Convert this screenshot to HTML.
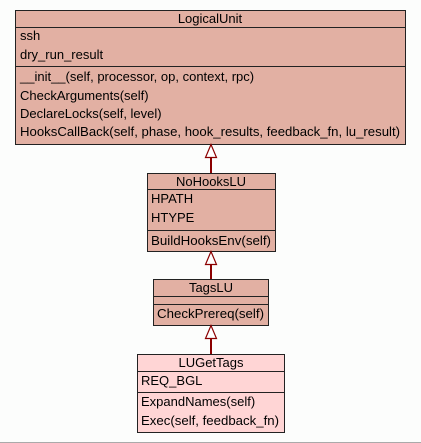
<!DOCTYPE html>
<html><head><meta charset="utf-8"><style>
html,body{margin:0;padding:0;background:#fcfdfc;}
svg{display:block;}
</style></head><body>
<svg width="421" height="443" viewBox="0 0 421 443" font-family="Liberation Sans, sans-serif" font-size="13" fill="#000">
<!-- LogicalUnit -->
<rect x="15.5" y="10.5" width="390" height="134" fill="#e2b0a3" stroke="#222" stroke-width="1"/>
<line x1="15" y1="27.5" x2="405" y2="27.5" stroke="#222"/>
<line x1="15" y1="66.5" x2="405" y2="66.5" stroke="#222"/>
<text x="210" y="23" text-anchor="middle" font-size="13">LogicalUnit</text>
<text x="20" y="40" font-size="13">ssh</text>
<text x="20" y="59" font-size="13">dry_run_result</text>
<text x="20" y="81" font-size="13">__init__(self, processor, op, context, rpc)</text>
<text x="20" y="100" font-size="13">CheckArguments(self)</text>
<text x="20" y="118" font-size="13">DeclareLocks(self, level)</text>
<text x="20" y="136" font-size="13" textLength="380" lengthAdjust="spacingAndGlyphs">HooksCallBack(self, phase, hook_results, feedback_fn, lu_result)</text>
<!-- arrow 1 -->
<line x1="211" y1="157" x2="211" y2="173" stroke="#8b0000" stroke-width="2"/>
<polygon points="211,144.5 205.5,157.5 216.5,157.5" fill="#fff" stroke="#8b0000" stroke-width="1.2"/>
<!-- NoHooksLU -->
<rect x="147.5" y="173.5" width="128" height="78" fill="#e2b0a3" stroke="#222"/>
<line x1="147" y1="189.5" x2="275" y2="189.5" stroke="#222"/>
<line x1="147" y1="230.5" x2="275" y2="230.5" stroke="#222"/>
<text x="211" y="186" text-anchor="middle" font-size="13">NoHooksLU</text>
<text x="151" y="203" font-size="13">HPATH</text>
<text x="151" y="222" font-size="13">HTYPE</text>
<text x="151" y="245" font-size="13" textLength="120" lengthAdjust="spacingAndGlyphs">BuildHooksEnv(self)</text>
<!-- arrow 2 -->
<line x1="211" y1="264" x2="211" y2="279" stroke="#8b0000" stroke-width="2"/>
<polygon points="211,251.5 205.5,264.5 216.5,264.5" fill="#fff" stroke="#8b0000" stroke-width="1.2"/>
<!-- TagsLU -->
<rect x="153.5" y="279.5" width="115" height="46" fill="#e2b0a3" stroke="#222"/>
<line x1="153" y1="296.5" x2="268" y2="296.5" stroke="#222"/>
<line x1="153" y1="304.5" x2="268" y2="304.5" stroke="#222"/>
<text x="211" y="292" text-anchor="middle" font-size="13">TagsLU</text>
<text x="157" y="318" font-size="13" textLength="107" lengthAdjust="spacingAndGlyphs">CheckPrereq(self)</text>
<!-- arrow 3 -->
<line x1="211" y1="338" x2="211" y2="354" stroke="#8b0000" stroke-width="2"/>
<polygon points="211,325.5 205.5,338.5 216.5,338.5" fill="#fff" stroke="#8b0000" stroke-width="1.2"/>
<!-- LUGetTags -->
<rect x="137.5" y="354.5" width="147" height="78" fill="#ffd5d5" stroke="#222"/>
<line x1="137" y1="371.5" x2="284" y2="371.5" stroke="#222"/>
<line x1="137" y1="392.5" x2="284" y2="392.5" stroke="#222"/>
<text x="211" y="367" text-anchor="middle" font-size="13">LUGetTags</text>
<text x="141" y="385" font-size="13">REQ_BGL</text>
<text x="141" y="406" font-size="13">ExpandNames(self)</text>
<text x="141" y="425" font-size="13" textLength="138" lengthAdjust="spacingAndGlyphs">Exec(self, feedback_fn)</text>
<line x1="0" y1="442.5" x2="421" y2="442.5" stroke="#aaa"/>
</svg>
</body></html>
